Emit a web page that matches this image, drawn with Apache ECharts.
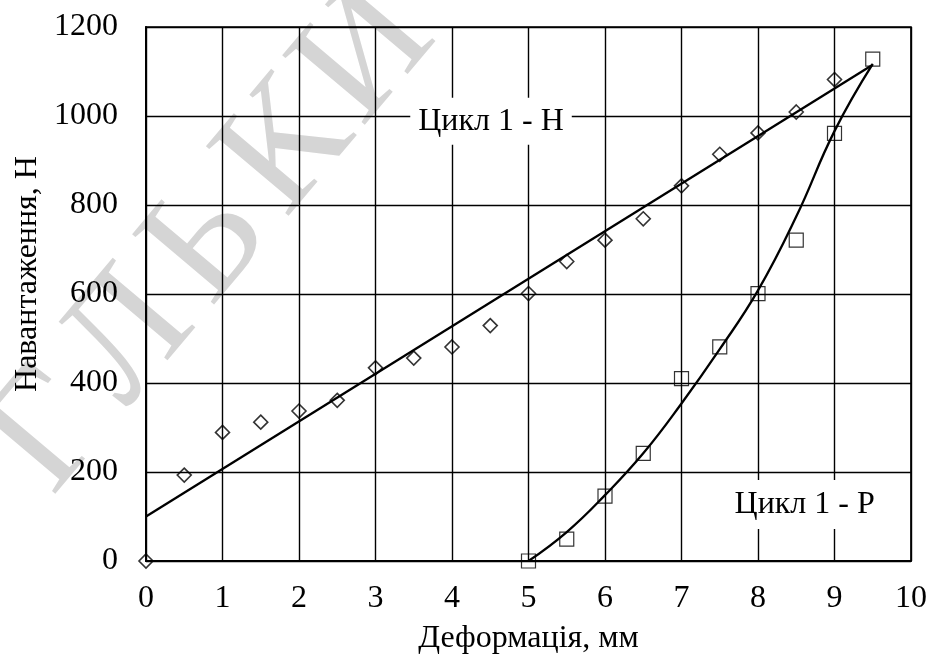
<!DOCTYPE html>
<html>
<head>
<meta charset="utf-8">
<script src="https://cdn.jsdelivr.net/npm/echarts@6/dist/echarts.min.js"></script>
<style>html,body{margin:0;padding:0;background:#fff}#c{width:932px;height:664px}</style>
</head>
<body>
<div id="c"></div>
<script>
// ---- data ----
const xTicks = [0, 1, 2, 3, 4, 5, 6, 7, 8, 9, 10];
const yTicks = [0, 200, 400, 600, 800, 1000, 1200];

const loadX = [0, 0.5, 1, 1.5, 2, 2.5, 3, 3.5, 4, 4.5, 5, 5.5, 6, 6.5, 7, 7.5, 8, 8.5, 9];
const loadY = [0, 193, 289, 312, 337, 361, 434, 456, 481, 529, 601, 673, 721, 769, 843, 914, 962, 1009, 1082];

const unloadX = [5, 5.5, 6, 6.5, 7, 7.5, 8, 8.5, 9, 9.5];
const unloadY = [0, 49, 146, 242, 410, 481, 601, 721, 961, 1128];

// trend lines
const trendLoadX = [0, 9.5];
const trendLoadY = [100, 1115];
const trendUnloadX = [5, 5.5, 6, 6.5, 7, 7.5, 8, 8.5, 9, 9.5];
const trendUnloadY = [0, 65, 148, 242, 354, 476, 608, 774, 966, 1117];

const seriesNames = ['Цикл 1 - Н', 'Цикл 1 - Р'];
const xTitle = 'Деформація, мм';
const yTitle = 'Навантаження, Н';
const watermarkLetters = ['Г', 'Л', 'Ь', 'К', 'И'];

const zip = (a, b) => a.map((v, i) => [v, b[i]]);
const FONT = 'Liberation Serif, Times New Roman, serif';

// watermark letters laid along a diagonal
const wm = watermarkLetters.map((ch, i) => ({
  type: 'text', z: -10, silent: true,
  x: 50 + i * 79.25, y: 433 - i * 94.5, rotation: 0.87,
  style: {text: ch, font: '165px ' + FONT, fill: '#d5d5d5',
          align: 'center', verticalAlign: 'middle'}
}));

const chart = echarts.init(document.getElementById('c'), null, {renderer: 'canvas'});
chart.setOption({
  animation: false,
  backgroundColor: '#fff',
  textStyle: {fontFamily: FONT, color: '#000'},
  graphic: wm,
  grid: {left: 146, right: 21, top: 27, bottom: 103, show: true,
         borderColor: '#000', borderWidth: 1.7, backgroundColor: 'transparent'},
  xAxis: {
    type: 'value', min: 0, max: 10, interval: 1,
    name: xTitle, nameLocation: 'middle', nameGap: 62,
    nameTextStyle: {fontSize: 32, fontFamily: FONT, color: '#000'},
    axisLine: {show: true, lineStyle: {color: '#000', width: 2}},
    axisTick: {show: false},
    axisLabel: {fontSize: 32, fontFamily: FONT, color: '#000', margin: 22,
                formatter: v => xTicks.includes(v) ? String(v) : ''},
    splitLine: {show: true, lineStyle: {color: '#000', width: 1.4}}
  },
  yAxis: {
    type: 'value', min: 0, max: 1200, interval: 200,
    name: yTitle, nameLocation: 'middle', nameGap: 100,
    nameTextStyle: {fontSize: 32, fontFamily: FONT, color: '#000', padding: [0, 0, 0, 40]},
    axisLine: {show: true, lineStyle: {color: '#000', width: 2}},
    axisTick: {show: false},
    axisLabel: {fontSize: 32, fontFamily: FONT, color: '#000', margin: 28,
                formatter: v => yTicks.includes(v) ? String(v) : ''},
    splitLine: {show: true, lineStyle: {color: '#000', width: 1.4}}
  },
  series: [
    {
      name: seriesNames[0] + ' тренд', type: 'line', data: zip(trendLoadX, trendLoadY),
      showSymbol: false, symbol: 'none', z: 4,
      lineStyle: {color: '#000', width: 2.3}, clip: false,
      markPoint: {
        symbol: 'rect', symbolSize: 1, itemStyle: {color: 'transparent'},
        data: [{coord: [4.51, 988], value: seriesNames[0]}],
        label: {show: true, position: 'inside', formatter: seriesNames[0],
                fontSize: 32, fontFamily: FONT, color: '#000',
                backgroundColor: '#fff', padding: [7, 8, 7, 8], lineHeight: 33}
      }
    },
    {
      name: seriesNames[1] + ' тренд', type: 'line', data: zip(trendUnloadX, trendUnloadY),
      showSymbol: false, symbol: 'none', smooth: 0.45, z: 4,
      lineStyle: {color: '#000', width: 2.3}, clip: false,
      markPoint: {
        symbol: 'rect', symbolSize: 1, itemStyle: {color: 'transparent'},
        data: [{coord: [8.61, 127], value: seriesNames[1]}],
        label: {show: true, position: 'inside', formatter: seriesNames[1],
                fontSize: 32, fontFamily: FONT, color: '#000',
                backgroundColor: '#fff', padding: [8, 14, 8, 14], lineHeight: 33}
      }
    },
    {
      name: seriesNames[0], type: 'scatter', data: zip(loadX, loadY),
      symbol: 'diamond', symbolSize: 14, clip: false, z: 3,
      itemStyle: {color: 'rgba(0,0,0,0)', borderColor: '#000', borderWidth: 1.6}
    },
    {
      name: seriesNames[1], type: 'scatter', data: zip(unloadX, unloadY),
      symbol: 'rect', symbolSize: 14, clip: false, z: 3,
      itemStyle: {color: 'rgba(0,0,0,0)', borderColor: '#000', borderWidth: 1.2}
    }
  ]
});
</script>
</body>
</html>
